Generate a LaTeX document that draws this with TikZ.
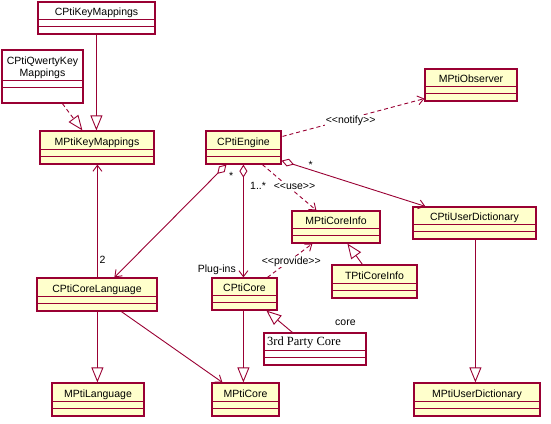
\documentclass[tikz,border=0pt]{standalone}
\usepackage{fontspec}
\newfontfamily\umlsans{Liberation Sans}
\newfontfamily\umlserif{Liberation Serif}
\usepackage{tikz}
\usetikzlibrary{arrows.meta,calc,fit}
\definecolor{rosered}{RGB}{153,0,51}
\definecolor{rosefill}{RGB}{255,255,204}
\tikzset{%
  classbox/.style={draw=rosered, line width=1.2pt, inner sep=0pt},
  compart/.style={draw=rosered, line width=0.9pt},
  classname/.style={anchor=south, inner sep=0pt, text depth=0pt, align=center,
    font=\umlsans\fontsize{10.5}{12}\selectfont},
  lbl/.style={inner sep=0pt, font=\umlsans\fontsize{10.5}{12}\selectfont},
  stereo/.style={lbl, fill=white, inner sep=0.6pt},
  link/.style={draw=rosered, line width=0.9pt},
  generalize/.style={link, -{Triangle[open,length=15pt,width=12pt]}},
  realize/.style={generalize, dash pattern=on 4pt off 3pt},
  assoc/.style={link, -{Straight Barb[length=6pt,width=9pt]}},
  aggregate/.style={link, {Diamond[open,length=13pt,width=8pt]}-{Straight Barb[length=6pt,width=9pt]}},
  depend/.style={assoc, dash pattern=on 4pt off 3pt}
}
% class box: fill, name, corners, extra height of last part, class name
\newcommand{\umlclass}[6][rosefill]{%
  \node[classbox, fill=#1, fit={#3 #4}] (#2) {};
  \draw[compart] ($(#2.south west)+(0,{-8-#5})$) -- ($(#2.south east)+(0,{-8-#5})$);
  \draw[compart] ($(#2.south west)+(0,{-15-#5})$) -- ($(#2.south east)+(0,{-15-#5})$);
  \node[classname] (#2-name) at ($(#2.south)+(0,{-18.5-#5})$) {#6};
}

\begin{document}
\begin{tikzpicture}[x=1pt,y=-1pt]
  \useasboundingbox (0,0) rectangle (551,423);
  \umlclass[white]{keymap}{(38,2)}{(155,34)}{0}{CPtiKeyMappings}
  \umlclass[white]{qwerty}{(2,50)}{(83,103)}{8}{CPtiQwertyKey\\Mappings}
  \umlclass{mkeymap}{(40,131)}{(154,164)}{0}{MPtiKeyMappings}
  \umlclass{engine}{(206,131)}{(281,164)}{0}{CPtiEngine}
  \umlclass{observer}{(425,69)}{(517,101)}{0}{MPtiObserver}
  \umlclass{coreinfo}{(292,211)}{(380,243)}{0}{MPtiCoreInfo}
  \umlclass{userdict}{(413,207)}{(536,239)}{0}{CPtiUserDictionary}
  \umlclass{tcoreinfo}{(332,265)}{(417,298)}{0}{TPtiCoreInfo}
  \umlclass{corelang}{(37,278)}{(157,311)}{0}{CPtiCoreLanguage}
  \umlclass{core}{(212,278)}{(277,310)}{0}{CPtiCore}
  \umlclass[white]{thirdparty}{(264,333)}{(366,365)}{0}{}
  \node[lbl, anchor=base west, font=\umlserif\fontsize{12.5}{14}\selectfont] (thirdparty-text) at (267,345) {3rd Party Core};
  \umlclass{mlang}{(52,383)}{(144,416)}{0}{MPtiLanguage}
  \umlclass{mcore}{(212,383)}{(279,416)}{0}{MPtiCore}
  \umlclass{muserdict}{(414,383)}{(540,416)}{0}{MPtiUserDictionary}

  \draw[generalize] ($(keymap.south west)+(59,0)$) -- ($(mkeymap.north west)+(57,0)$);
  \draw[realize] ($(qwerty.south west)+(61,0)$) -- ($(mkeymap.north west)+(43,0)$);
  \draw[assoc] ($(corelang.north west)+(61,0)$) -- ($(mkeymap.south west)+(58,0)$);
  \draw[generalize] ($(corelang.south west)+(61,0)$) -- ($(mlang.north west)+(46,0)$);
  \draw[assoc] ($(corelang.south west)+(85,0)$) -- ($(mcore.north west)+(11,0)$);
  \draw[aggregate] ($(engine.south west)+(21,0)$) -- ($(corelang.north west)+(78,0)$);
  \draw[aggregate] ($(engine.south west)+(38,0)$) -- ($(core.north west)+(32,0)$);
  \draw[aggregate] ($(engine.south east)+(0,-4)$) -- ($(userdict.north west)+(13,0)$);
  \draw[depend] ($(engine.south west)+(57,0)$) -- ($(coreinfo.north west)+(25,0)$);
  \draw[depend] ($(engine.north east)+(1,6)$) -- ($(observer.south west)+(0,-3)$);
  \draw[depend] ($(core.north west)+(56,0)$) -- ($(coreinfo.south west)+(21,0)$);
  \draw[generalize] ($(tcoreinfo.north west)+(31,0)$) -- ($(coreinfo.south west)+(56,0)$);
  \draw[generalize] ($(thirdparty.north west)+(29,0)$) -- ($(core.south west)+(55,0)$);
  \draw[generalize] ($(core.south west)+(32,0)$) -- ($(mcore.north west)+(32,0)$);
  \draw[generalize] ($(userdict.south west)+(63,0)$) -- ($(muserdict.north west)+(62,0)$);

  \node[lbl, anchor=base west] (mult-two) at (99.5,263) {2};
  \node[lbl, anchor=base west] (mult-lang) at (229,179) {*};
  \node[lbl, anchor=base west] (mult-plug) at (250,189) {1..*};
  \node[lbl, anchor=base west] (mult-dict) at (308.5,168) {*};
  \node[lbl, anchor=base east] (role-plug) at (236,272) {Plug-ins};
  \node[lbl, anchor=base west] (role-core) at (335,325) {core};
  \node[stereo, anchor=base west] (st-use) at (273,189) {<<use>>};
  \node[stereo, anchor=base west] (st-notify) at (325,123) {<<notify>>};
  \node[stereo, anchor=base west] (st-provide) at (261,264) {<<provide>>};
\end{tikzpicture}
\end{document}
